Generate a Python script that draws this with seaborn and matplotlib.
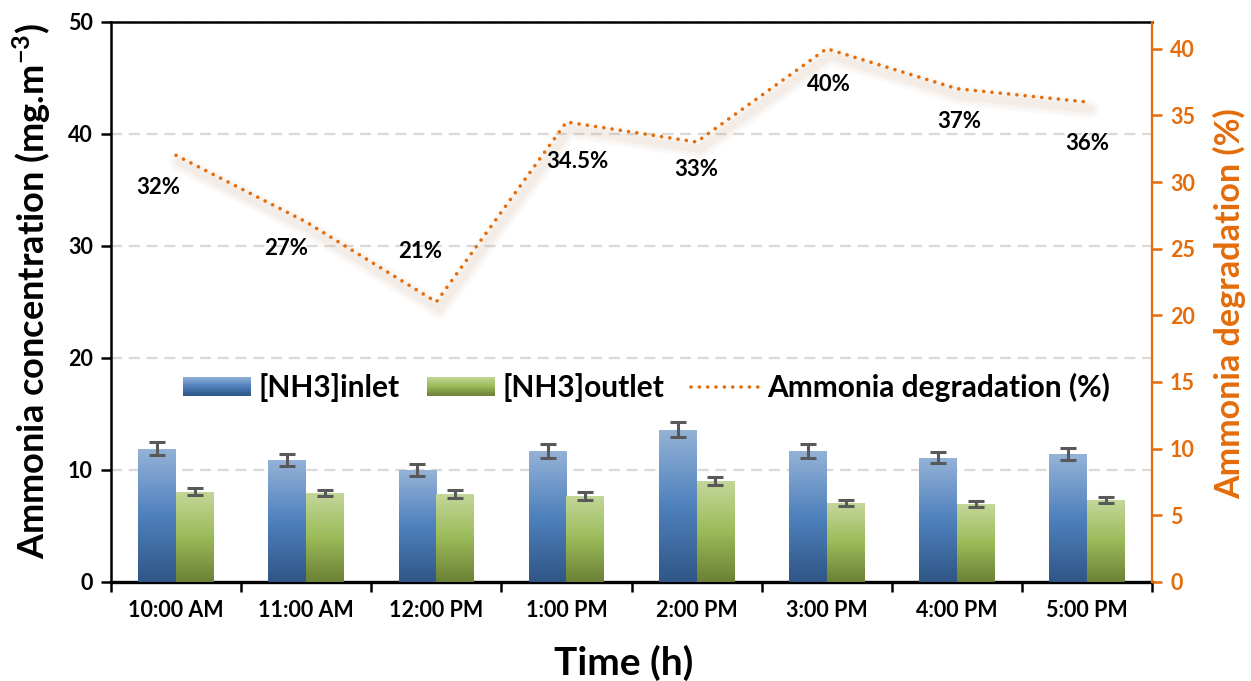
import numpy as np
import pandas as pd
import matplotlib
matplotlib.use("Agg")
import matplotlib.pyplot as plt
import matplotlib.transforms as mtransforms
import seaborn as sns
from matplotlib.colors import LinearSegmentedColormap, to_hex
from matplotlib.legend_handler import HandlerBase
from matplotlib.patches import Rectangle
from matplotlib.lines import Line2D

# ---- data -------------------------------------------------------------
times = ["10:00 AM", "11:00 AM", "12:00 PM", "1:00 PM",
         "2:00 PM", "3:00 PM", "4:00 PM", "5:00 PM"]
nh3_inlet = [11.9, 10.9, 10.0, 11.7, 13.6, 11.7, 11.1, 11.4]
nh3_inlet_err = [0.6, 0.55, 0.5, 0.6, 0.65, 0.6, 0.5, 0.55]
nh3_outlet = [8.05, 7.95, 7.86, 7.68, 9.0, 7.05, 6.95, 7.3]
nh3_outlet_err = [0.3, 0.3, 0.35, 0.33, 0.35, 0.25, 0.25, 0.25]
degradation = [32, 27, 21, 34.5, 33, 40, 37, 36]
degradation_labels = ["32%", "27%", "21%", "34.5%", "33%", "40%", "37%", "36%"]
series_names = ["[NH3]inlet", "[NH3]outlet"]

# label offsets (pixels) relative to each line vertex
label_offsets = [(-18, -32), (-20, -26), (-16, 50), (11, -39),
                 (0, -27), (2, -36), (2, -33), (0, -41)]

ORANGE = "#E46C0A"
BLUE_MID = "#4F81BD"
GREEN_MID = "#9BBB59"
blue_cmap = LinearSegmentedColormap.from_list(
    "inlet", [(0, "#2F5686"), (0.5, "#4F81BD"), (1, "#95B3D7")])
green_cmap = LinearSegmentedColormap.from_list(
    "outlet", [(0, "#6B8035"), (0.5, "#9BBB59"), (1, "#C4D79B")])

df = pd.DataFrame({
    "time": times * 2,
    "value": nh3_inlet + nh3_outlet,
    "err": nh3_inlet_err + nh3_outlet_err,
    "series": [series_names[0]] * len(times) + [series_names[1]] * len(times),
})

# ---- figure -----------------------------------------------------------
sns.set_theme(style="white")
plt.rcParams["font.family"] = ["Lato", "DejaVu Sans"]
plt.rcParams["font.weight"] = "bold"
plt.rcParams["mathtext.fontset"] = "custom"
plt.rcParams["mathtext.bf"] = "Lato:bold"
plt.rcParams["mathtext.rm"] = "Lato:bold"

TICK_FS = 15.5
W, H = 1251, 681
fig = plt.figure(figsize=(W / 100, H / 100), dpi=100)
ax = fig.add_axes([111 / W, (H - 582) / H, (1152 - 111) / W, (582 - 22) / H])

sns.barplot(data=df, x="time", y="value", hue="series", order=times,
            hue_order=series_names, palette={series_names[0]: BLUE_MID,
                                             series_names[1]: GREEN_MID},
            saturation=1, width=0.58, gap=0, errorbar=None, legend=False,
            ax=ax, linewidth=0, zorder=3)

# gradient fill clipped to every bar, plus error bars
cmaps = {to_hex(BLUE_MID): blue_cmap, to_hex(GREEN_MID): green_cmap}
grad = np.linspace(0, 1, 256).reshape(-1, 1)
bars = list(ax.patches)
centers = {to_hex(BLUE_MID): [], to_hex(GREEN_MID): []}
for p in bars:
    key = to_hex(p.get_facecolor())
    x0, y0, w, h = p.get_x(), p.get_y(), p.get_width(), p.get_height()
    im = ax.imshow(grad, extent=(x0, x0 + w, y0, y0 + h), origin="lower",
                   cmap=cmaps[key], aspect="auto", zorder=3,
                   interpolation="bilinear")
    im.set_clip_path(p)
    p.set_facecolor("none")
    centers[key].append((x0 + w / 2, y0 + h))

for key, errs in [(to_hex(BLUE_MID), nh3_inlet_err),
                  (to_hex(GREEN_MID), nh3_outlet_err)]:
    pts = sorted(centers[key])
    ax.errorbar([c[0] for c in pts], [c[1] for c in pts], yerr=errs,
                fmt="none", ecolor="#595959", elinewidth=2.2, capsize=6,
                capthick=2.2, zorder=4)

ax.set_xlim(-0.5, len(times) - 0.5)
ax.set_ylim(0, 50)
ax.set_yticks([0, 10, 20, 30, 40, 50])
ax.set_xticks(range(len(times)))
ax.set_xticklabels(times)
ax.set_xticks(np.arange(-0.5, len(times), 1), minor=True)
ax.yaxis.grid(True, color="#D9D9D9", linestyle=(0, (5, 3)), linewidth=1.6,
              zorder=0)
ax.set_axisbelow(True)
ax.tick_params(axis="x", which="major", length=0, pad=13, labelsize=TICK_FS,
               colors="black")
ax.tick_params(axis="x", which="minor", length=7, width=1.8, color="black",
               direction="out", bottom=True)
ax.tick_params(axis="y", length=7, width=1.8, color="black", direction="out",
               left=True, labelsize=TICK_FS, pad=6, labelcolor="black")
for lbl in ax.get_xticklabels() + ax.get_yticklabels():
    lbl.set_fontweight("bold")
for side in ["left", "top"]:
    ax.spines[side].set_color("black")
    ax.spines[side].set_linewidth(1.8)
ax.spines["bottom"].set_color("black")
ax.spines["bottom"].set_linewidth(2.4)
ax.spines["right"].set_visible(False)

ax.set_xlabel("Time (h)", fontsize=28, fontweight="bold", color="black")
ax.set_ylabel("Ammonia concentration (mg.m$^{\\mathbf{-3}}$)", fontsize=26,
              fontweight="bold", color="black")

# ---- degradation line on secondary axis --------------------------------
ax2 = ax.twinx()
xpos = np.arange(len(times))
for lw, a in [(14, 0.045), (10, 0.06), (6, 0.08)]:
    shadow_tr = mtransforms.offset_copy(ax2.transData, fig=fig, x=3, y=-7,
                                        units="dots")
    ax2.plot(xpos, degradation, color="#C8A07A", lw=lw, alpha=a,
             solid_capstyle="round", solid_joinstyle="round",
             transform=shadow_tr, zorder=2)
sns.lineplot(x=xpos, y=degradation, ax=ax2, color=ORANGE, lw=2.6,
             linestyle=(0, (0.01, 2.3)), dash_capstyle="round", zorder=5)

for xi, yi, txt, off in zip(xpos, degradation, degradation_labels, label_offsets):
    ax2.annotate(txt, (xi, yi), xytext=off, textcoords="offset pixels",
                 ha="center", va="center", fontsize=16, fontweight="bold",
                 color="black", zorder=6)

ax2.set_ylim(0, 42)
ax2.set_yticks(range(0, 41, 5))
ax2.tick_params(axis="y", length=7, width=1.8, color=ORANGE,
                labelcolor=ORANGE, labelsize=TICK_FS, direction="out",
                right=True, pad=6)
for lbl in ax2.get_yticklabels():
    lbl.set_fontweight("bold")
for side in ["left", "top", "bottom"]:
    ax2.spines[side].set_visible(False)
ax2.spines["right"].set_color(ORANGE)
ax2.spines["right"].set_linewidth(1.6)
ax2.set_ylabel("Ammonia degradation (%)", fontsize=24.5, fontweight="bold",
               color=ORANGE)
# axis-title placement in figure pixels
ax.yaxis.set_label_coords(53 / W, (H - 291) / H, transform=fig.transFigure)
ax2.yaxis.set_label_coords(1213 / W, (H - 304) / H, transform=fig.transFigure)
ax.xaxis.set_label_coords(624 / W, (H - 645) / H, transform=fig.transFigure)
ax2.grid(False)


# ---- legend -----------------------------------------------------------
class GradientHandler(HandlerBase):
    def __init__(self, cmap, steps=24):
        super().__init__()
        self.cmap = cmap
        self.steps = steps

    def create_artists(self, legend, orig_handle, xdescent, ydescent,
                       width, height, fontsize, trans):
        out = []
        for i in range(self.steps):
            out.append(Rectangle((-xdescent, -ydescent + i * height / self.steps),
                                 width, height / self.steps * 1.05,
                                 facecolor=self.cmap((i + 0.5) / self.steps),
                                 edgecolor="none", transform=trans))
        return out


h_in = Rectangle((0, 0), 1, 1, label=series_names[0])
h_out = Rectangle((0, 0), 1, 1, label=series_names[1])
h_line = Line2D([], [], color=ORANGE, lw=2.6, linestyle=(0, (0.01, 2.3)),
                dash_capstyle="round", label="Ammonia degradation (%)")
leg = ax2.legend(handles=[h_in, h_out, h_line], ncol=3, frameon=False,
                 loc="center left", bbox_to_anchor=(183 / W, (H - 387) / H),
                 bbox_transform=fig.transFigure, borderpad=0, borderaxespad=0,
                 handlelength=2.27, handleheight=0.6, handletextpad=0.27,
                 columnspacing=0.9,
                 prop={"size": 21.5, "weight": "bold"},
                 handler_map={h_in: GradientHandler(blue_cmap),
                              h_out: GradientHandler(green_cmap)})
for t in leg.get_texts():
    t.set_color("black")

fig.savefig("out.png", dpi=100)
